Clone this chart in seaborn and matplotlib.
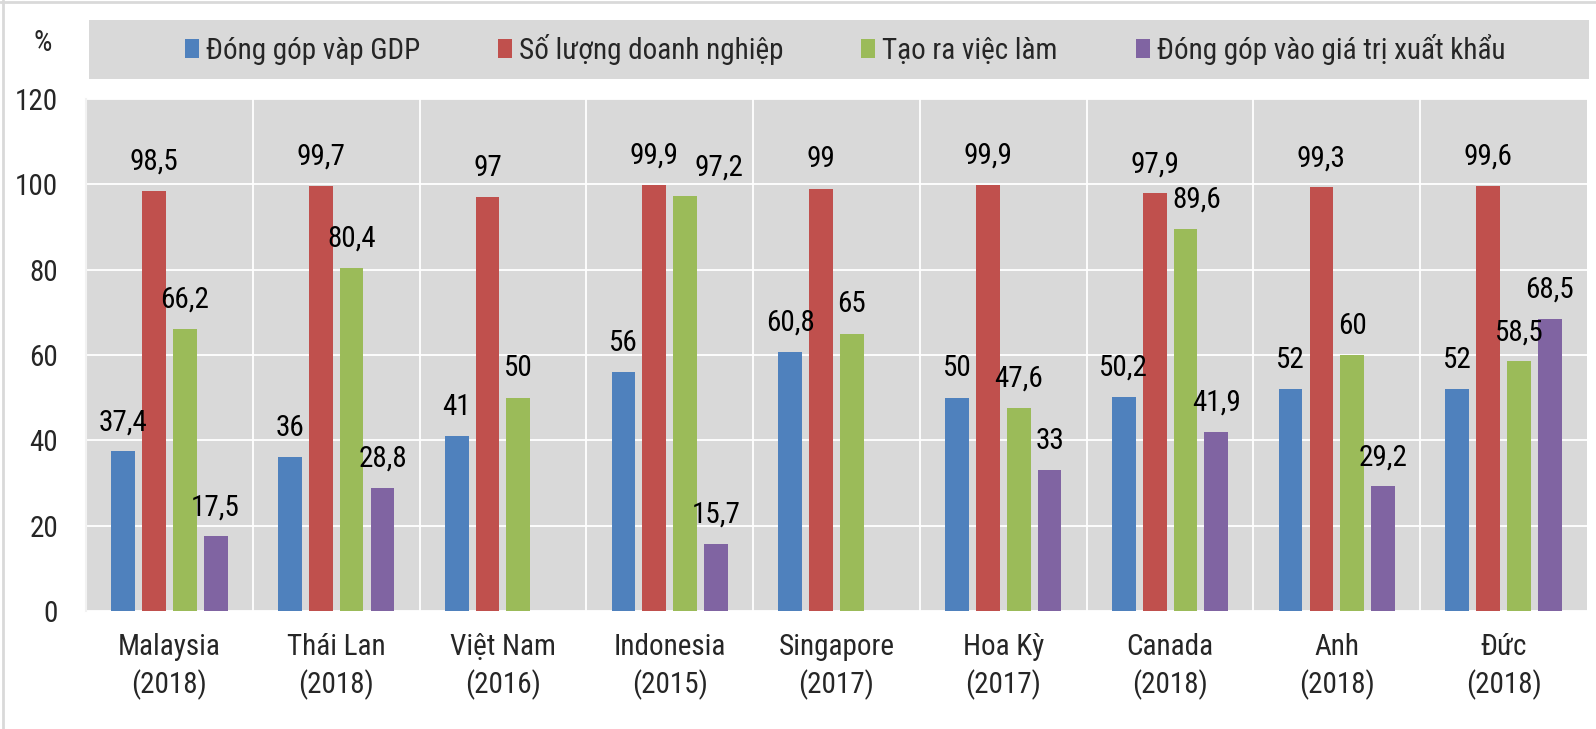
import matplotlib
matplotlib.use("Agg")
import matplotlib.pyplot as plt
import seaborn as sns
import pandas as pd
import numpy as np
from matplotlib.patches import Patch, Rectangle
from matplotlib.lines import Line2D

# Du lieu doc tu bieu do
countries = ["Malaysia\n(2018)", "Thái Lan\n(2018)", "Việt Nam\n(2016)", "Indonesia\n(2015)",
             "Singapore\n(2017)", "Hoa Kỳ\n(2017)", "Canada\n(2018)", "Anh\n(2018)", "Đức\n(2018)"]
series = ["Đóng góp vàp GDP", "Số lượng doanh nghiệp", "Tạo ra việc làm",
          "Đóng góp vào giá trị xuất khẩu"]
gdp = [37.4, 36, 41, 56, 60.8, 50, 50.2, 52, 52]
doanh_nghiep = [98.5, 99.7, 97, 99.9, 99, 99.9, 97.9, 99.3, 99.6]
viec_lam = [66.2, 80.4, 50, 97.2, 65, 47.6, 89.6, 60, 58.5]
xuat_khau = [17.5, 28.8, np.nan, 15.7, np.nan, 33, 41.9, 29.2, 68.5]
y_ticks = [0, 20, 40, 60, 80, 100, 120]

colors = ["#4f81bd", "#c0504d", "#9bbb59", "#8064a2"]
values = [gdp, doanh_nghiep, viec_lam, xuat_khau]

# mot vai nhan bi day sang phai trong ban goc (don vi: point)
label_nudge = {(2, 3): 24, (2, 6): 8}

df = pd.DataFrame({
    "country": countries * len(series),
    "series": np.repeat(series, len(countries)),
    "value": gdp + doanh_nghiep + viec_lam + xuat_khau,
})

sns.set_style("white")
plt.rcParams["font.family"] = ["Roboto Condensed", "Archivo Narrow", "Liberation Sans", "DejaVu Sans"]
FS = 21

fig = plt.figure(figsize=(15.96, 7.29), dpi=100)
ax = fig.add_axes([86 / 1596, 1 - 611 / 729, (1587 - 86) / 1596, (611 - 99) / 729])
ax.set_facecolor("#d9d9d9")

sns.barplot(data=df, x="country", y="value", hue="series", hue_order=series,
            order=countries, palette=colors, saturation=1, width=0.74, gap=0.23,
            errorbar=None, legend=False, linewidth=0, ax=ax)

# nhan gia tri tren cot
for j, cont in enumerate(ax.containers):
    for bar in cont:
        h = bar.get_height()
        if np.isnan(h):
            continue
        xc = bar.get_x() + bar.get_width() / 2
        i = int(round(xc))
        v = values[j][i]
        txt = f"{v:g}".replace(".", ",")
        ax.annotate(txt, (xc, h), xytext=(label_nudge.get((j, i), 0), 21),
                    textcoords="offset points", ha="center", va="center",
                    fontsize=FS, color="black")

ax.set_xlim(-0.5, len(countries) - 0.5)
ax.set_ylim(0, 120)
ax.set_yticks(y_ticks)
ax.set_xticks(np.arange(0.5, len(countries) - 0.5), minor=True)
ax.set_axisbelow(True)
ax.yaxis.grid(True, color="white", lw=1.3)
ax.xaxis.grid(True, which="minor", color="white", lw=1.3)
ax.xaxis.grid(False, which="major")
ax.tick_params(axis="both", which="both", length=0, labelsize=FS)
ax.tick_params(axis="y", pad=20)
ax.tick_params(axis="x", pad=16)
for lab in ax.get_xticklabels():
    lab.set_linespacing(1.32)
ax.set_xlabel("")
ax.set_ylabel("")
for s in ["top", "right", "bottom"]:
    ax.spines[s].set_visible(False)
ax.spines["left"].set_color("#f2f2f2")
ax.spines["left"].set_linewidth(1.5)

fig.text(42.5 / 1596, 1 - 43 / 729, "%", fontsize=FS, ha="center", va="center")

# khung chu giai
fig.patches.append(Rectangle((89 / 1596, 1 - 79 / 729), (1589 - 89) / 1596, 59 / 729,
                             transform=fig.transFigure, facecolor="#d9d9d9",
                             edgecolor="none", zorder=0))
handles = [Patch(facecolor=c, edgecolor="none") for c in colors]
fig.legend(handles, series, loc="center", bbox_to_anchor=(845 / 1596, 1 - 49.5 / 729),
           ncol=4, frameon=False, fontsize=FS, handlelength=0.48, handleheight=0.62,
           handletextpad=0.24, columnspacing=2.67, borderpad=0, borderaxespad=0)

# vien ngoai
fig.add_artist(Line2D([3 / 1596, 3 / 1596], [0, 1], transform=fig.transFigure,
                      color="#d9d9d9", lw=2))
fig.add_artist(Line2D([0, 1], [1 - 2 / 729, 1 - 2 / 729], transform=fig.transFigure,
                      color="#d9d9d9", lw=2))

fig.savefig("out.png", dpi=100)
